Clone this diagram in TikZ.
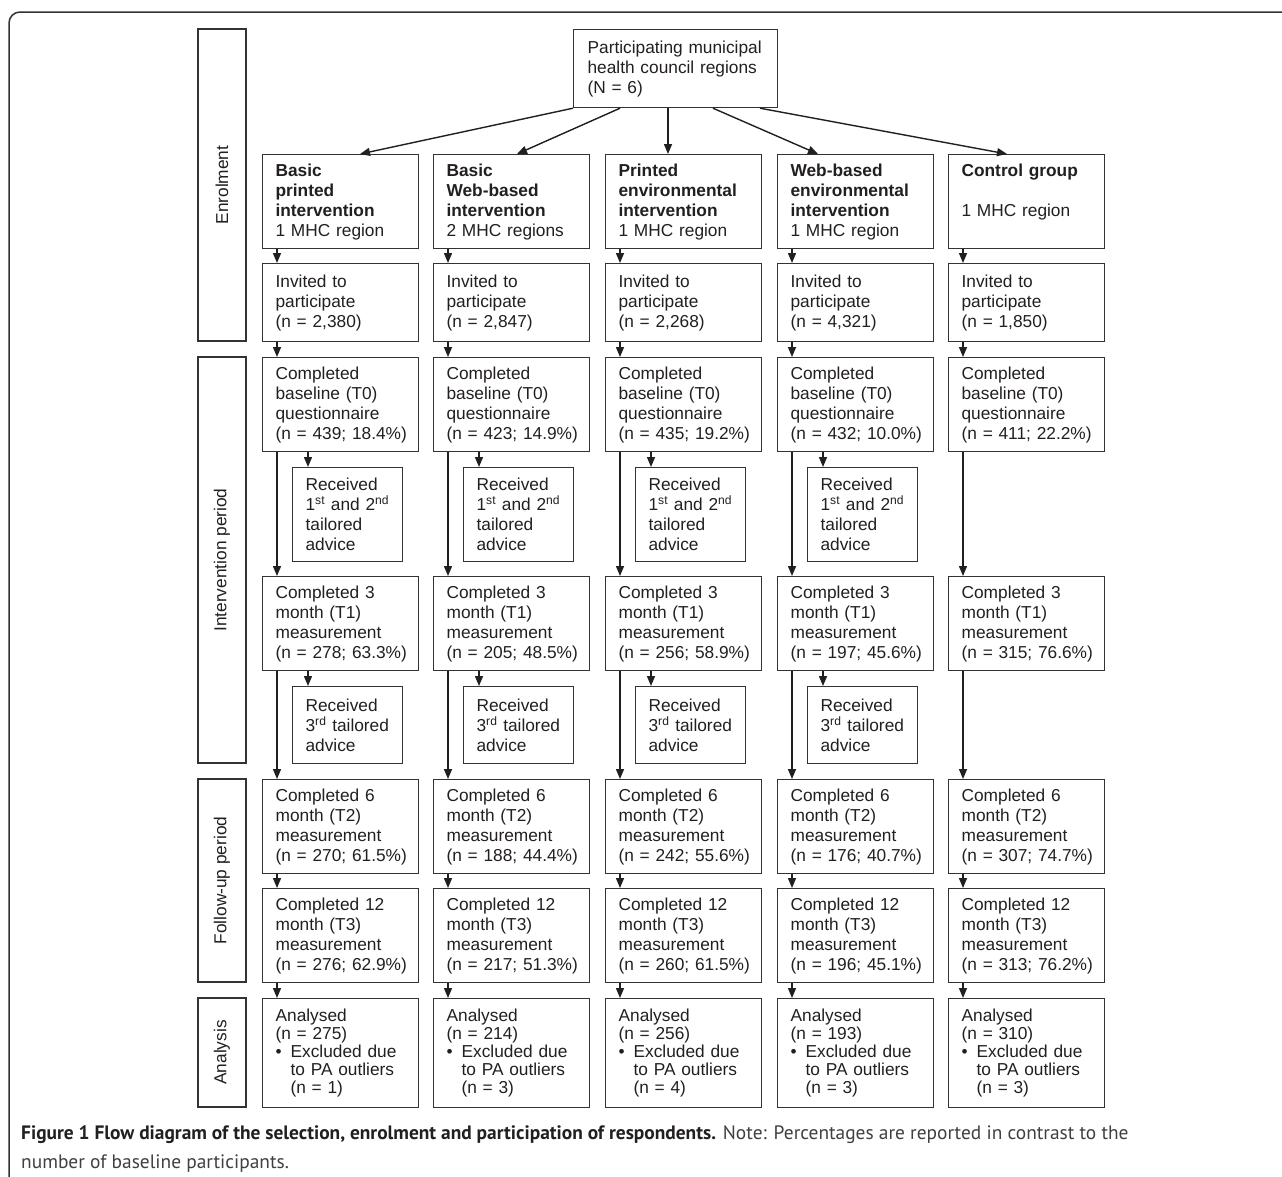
\documentclass[tikz,border=0pt]{standalone}
\usepackage{fontspec}
\setmainfont{Liberation Sans}
\newfontfamily\capfont{PT Sans}
\usetikzlibrary{arrows.meta,calc}
\definecolor{ink}{HTML}{231F20}
\definecolor{frame}{HTML}{333333}
\tikzset{
  bx/.style={draw=frame, line width=1.2pt, rectangle, anchor=north west,
    inner xsep=13pt, inner ysep=0pt, align=left, text width=130pt,
    font=\fontsize{17.3}{20}\selectfont, text=ink},
  rbx/.style={bx, text width=84pt},
  side/.style={draw=frame, line width=1.2pt, rectangle, inner sep=0pt,
    minimum height=48pt, rotate=90, font=\fontsize{17.3}{20}\selectfont, text=ink},
  arr/.style={-{Triangle[length=10pt,width=8pt]}, line width=1.4pt, draw=ink},
}
\newcommand{\mkcol}[9]{%
  \node[bx, minimum height=78pt] (inv#1) at (#2,263) {Invited to\\participate\\\mbox{(n = #3)}};
  \node[bx, minimum height=94pt] (b#1) at (#2,357) {Completed\\baseline (T0)\\questionnaire\\\mbox{(n = #4\%)}};
  \node[bx, minimum height=94pt] (t1#1) at (#2,576) {Completed 3\\month (T1)\\measurement\\\mbox{(n = #5\%)}};
  \node[bx, minimum height=94pt] (t2#1) at (#2,779) {Completed 6\\month (T2)\\measurement\\\mbox{(n = #6\%)}};
  \node[bx, minimum height=94pt] (t3#1) at (#2,888) {Completed 12\\month (T3)\\measurement\\\mbox{(n = #7\%)}};
  \node[bx, minimum height=109pt, font=\fontsize{17.3}{18}\selectfont] (an#1) at (#2,998)
    {Analysed\\(n = #8)\\\makebox[15pt][l]{\textbullet}Excluded due\\\hspace*{15pt}to PA outliers\\\hspace*{15pt}(n = #9)};
  \draw[arr] ($(g#1.south west)+(15,0)$) -- ($(inv#1.north west)+(15,0)$);
  \draw[arr] ($(inv#1.south west)+(15,0)$) -- ($(b#1.north west)+(15,0)$);
  \draw[arr] ($(b#1.south west)+(15,0)$) -- ($(t1#1.north west)+(15,0)$);
  \draw[arr] ($(t1#1.south west)+(15,0)$) -- ($(t2#1.north west)+(15,0)$);
  \draw[arr] ($(t2#1.south west)+(15,0)$) -- ($(t3#1.north west)+(15,0)$);
  \draw[arr] ($(t3#1.south west)+(15,0)$) -- ($(an#1.north west)+(15,0)$);
}
\newcommand{\mkrecv}[2]{%
  \node[rbx, minimum height=94pt] (ra#1) at (#2+30,467) {Received\\\mbox{1\textsuperscript{st} and 2\textsuperscript{nd}}\\tailored\\advice};
  \node[rbx, minimum height=77pt] (rb#1) at (#2+30,686) {Received\\\mbox{3\textsuperscript{rd} tailored}\\advice};
  \draw[arr] ($(b#1.south west)+(46,0)$) -- ($(ra#1.north west)+(16,0)$);
  \draw[arr] ($(t1#1.south west)+(46,0)$) -- ($(rb#1.north west)+(16,0)$);
}
\begin{document}
\begin{tikzpicture}[x=1pt,y=-1pt]
\useasboundingbox (0,0) rectangle (1282,1176);
\fill[white] (0,0) rectangle (1282,1176);
% outer frame (top-left corner only visible)
\draw[frame, line width=1.5pt, rounded corners=11pt] (9,1190) -- (9,12) -- (1295,12);

% side labels
\node[side, minimum width=312pt] (s1) at (222,185) {Enrolment};
\node[side, minimum width=406pt] (s2) at (222,560) {Intervention period};
\node[side, minimum width=203pt] (s3) at (222,880.5) {Follow-up period};
\node[side, minimum width=109pt] (s4) at (222,1052.5) {Analysis};

% top
\node[bx, minimum height=78pt, text width=176pt, inner xsep=14pt] (top) at (573,29)
  {Participating municipal\\health council regions\\(N = 6)};

% groups
\node[bx, minimum height=94pt] (g1) at (262,154) {\textbf{Basic}\\\textbf{printed}\\\textbf{intervention}\\1 MHC region};
\node[bx, minimum height=94pt] (g2) at (433,154) {\textbf{Basic}\\\textbf{Web-based}\\\textbf{intervention}\\2 MHC regions};
\node[bx, minimum height=94pt] (g3) at (605,154) {\textbf{Printed}\\\textbf{environmental}\\\textbf{intervention}\\1 MHC region};
\node[bx, minimum height=94pt] (g4) at (777,154) {\textbf{Web-based}\\\textbf{environmental}\\\textbf{intervention}\\1 MHC region};
\node[bx, minimum height=94pt] (g5) at (948,154) {\textbf{Control group}\\\mbox{}\\1 MHC region\\\vphantom{(}};

\draw[arr] (top.south west) -- ($(g1.north west)+(98,0)$);
\draw[arr] ($(top.south west)+(47,0)$) -- ($(g2.north west)+(84,0)$);
\draw[arr] ($(top.south west)+(95,0)$) -- ($(g3.north west)+(63,0)$);
\draw[arr] ($(top.south west)+(140,0)$) -- ($(g4.north west)+(41,0)$);
\draw[arr] ($(top.south west)+(187,0)$) -- ($(g5.north west)+(59,0)$);

\mkcol{1}{262}{2,380}{439; 18.4}{278; 63.3}{270; 61.5}{276; 62.9}{275}{1}
\mkcol{2}{433}{2,847}{423; 14.9}{205; 48.5}{188; 44.4}{217; 51.3}{214}{3}
\mkcol{3}{605}{2,268}{435; 19.2}{256; 58.9}{242; 55.6}{260; 61.5}{256}{4}
\mkcol{4}{777}{4,321}{432; 10.0}{197; 45.6}{176; 40.7}{196; 45.1}{193}{3}
\mkcol{5}{948}{1,850}{411; 22.2}{315; 76.6}{307; 74.7}{313; 76.2}{310}{3}
\mkrecv{1}{262}
\mkrecv{2}{433}
\mkrecv{3}{605}
\mkrecv{4}{777}

% caption
\node[anchor=base west, inner sep=0pt, font=\capfont\fontsize{19.4}{29}\selectfont, text=ink] (cap1) at (21,1139)
  {\textbf{Figure 1 Flow diagram of the selection, enrolment and participation of respondents.} \textcolor{black!75}{Note: Percentages are reported in contrast to the}};
\node[anchor=base west, inner sep=0pt, font=\capfont\fontsize{19.4}{29}\selectfont, text=black!75] (cap2) at (21,1168)
  {number of baseline participants.};
\end{tikzpicture}
\end{document}
